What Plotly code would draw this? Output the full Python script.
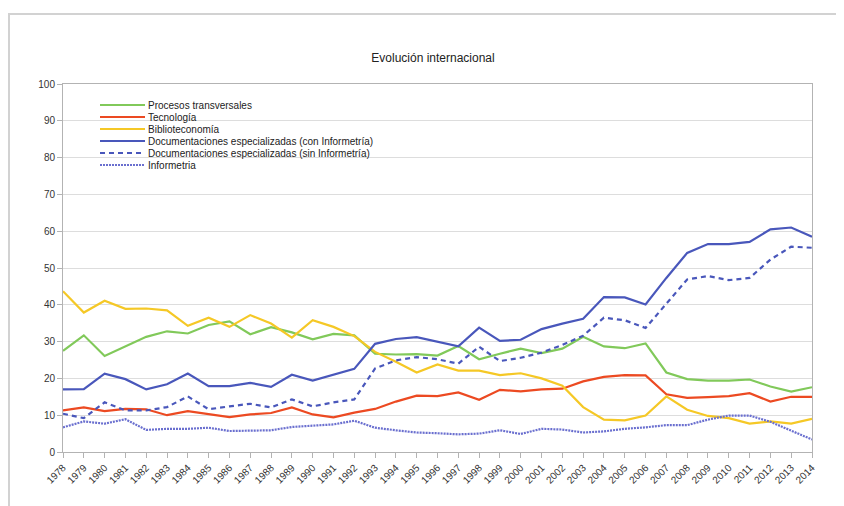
import plotly.graph_objects as go

years = list(range(1978, 2015))

procesos = [27.5, 31.7, 26.1, 28.6, 31.3, 32.8, 32.2, 34.5, 35.5, 32.0, 33.9, 32.5,
            30.6, 32.1, 31.7, 26.7, 26.5, 26.6, 26.2, 28.8, 25.2, 26.7, 28.1, 26.9,
            28.1, 31.3, 28.7, 28.2, 29.5, 21.6, 19.8, 19.4, 19.4, 19.7, 17.8, 16.4, 17.6]
tecnologia = [11.3, 12.1, 11.1, 11.7, 11.6, 10.0, 11.1, 10.2, 9.5, 10.2, 10.6, 12.1,
              10.2, 9.4, 10.7, 11.7, 13.7, 15.3, 15.2, 16.2, 14.2, 16.9, 16.5, 17.0,
              17.2, 19.2, 20.4, 20.9, 20.8, 15.7, 14.7, 14.9, 15.2, 16.0, 13.7, 15.0, 15.0]
biblioteconomia = [43.7, 37.9, 41.1, 38.9, 39.0, 38.5, 34.3, 36.5, 34.0, 37.2, 34.9, 31.1,
                   35.8, 34.0, 31.5, 27.2, 24.5, 21.6, 23.8, 22.1, 22.1, 20.9, 21.4, 20.0,
                   18.0, 12.2, 8.8, 8.6, 9.9, 15.1, 11.5, 9.8, 9.2, 7.7, 8.3, 7.7, 9.0]
doc_con = [17.0, 17.1, 21.3, 19.8, 17.0, 18.4, 21.3, 17.9, 17.9, 18.8, 17.7, 21.0,
           19.4, 20.9, 22.6, 29.4, 30.7, 31.2, 29.9, 28.7, 33.8, 30.2, 30.5, 33.4,
           34.9, 36.2, 42.1, 42.0, 40.1, 47.3, 54.1, 56.5, 56.5, 57.1, 60.5, 61.0, 58.5]
doc_sin = [10.4, 9.2, 13.5, 11.3, 11.3, 12.2, 15.1, 11.6, 12.4, 13.1, 12.1, 14.3,
           12.4, 13.5, 14.3, 22.7, 24.9, 25.8, 25.2, 24.0, 28.6, 24.7, 25.6, 27.0,
           29.1, 31.6, 36.5, 35.8, 33.7, 40.3, 46.9, 47.8, 46.7, 47.3, 52.3, 55.8, 55.5]
informetria = [6.7, 8.3, 7.7, 8.9, 6.0, 6.3, 6.3, 6.6, 5.7, 5.7, 5.9, 6.8,
               7.1, 7.5, 8.5, 6.6, 5.9, 5.3, 5.1, 4.8, 5.0, 5.9, 4.9, 6.3,
               6.1, 5.3, 5.6, 6.3, 6.7, 7.3, 7.3, 8.8, 9.9, 9.9, 8.2, 5.9, 3.4]

names = ["Procesos transversales", "Tecnología", "Biblioteconomía",
         "Documentaciones especializadas (con Informetría)",
         "Documentaciones especializadas (sin Informetría)", "Informetria"]
series = [procesos, tecnologia, biblioteconomia, doc_con, doc_sin, informetria]
colors = ["#81c95a", "#ec4a22", "#f5c826", "#4957bb", "#4957bb", "#6a6fcf"]
dashes = ["solid", "solid", "solid", "solid", "5px,4px", "2px,1px"]

FONT = "Liberation Sans, Arial, sans-serif"

# the page body has an 8px margin, so the figure sits at (8, 8)
OFF = 8
FW, FH = 844 - OFF, 506 - OFF
# plot area in page pixels
L, R, T, B = 63, 812, 84, 452
W, H = R - L, B - T


def px_x(p):
    return (p - L) / W


def px_y(p):
    return (B - p) / H


fig = go.Figure()
for name, vals, col, dash in zip(names, series, colors, dashes):
    fig.add_trace(go.Scatter(x=years, y=vals, name=name, mode="lines",
                             line=dict(color=col, width=2.2, dash=dash),
                             showlegend=False))

# compact legend drawn by hand, like the original
shapes = []
annotations = []
for i, (name, col, dash) in enumerate(zip(names, colors, dashes)):
    yy = px_y(105 + i * 12)
    shapes.append(dict(type="line", xref="paper", yref="paper",
                       x0=px_x(100), x1=px_x(145), y0=yy, y1=yy,
                       line=dict(color=col, width=2.2, dash=dash)))
    annotations.append(dict(text=name, xref="paper", yref="paper",
                            x=px_x(146), y=yy, xanchor="left", yanchor="middle",
                            showarrow=False, font=dict(size=10, color="#222", family=FONT)))

# outer frame of the embedded picture
shapes.append(dict(type="rect", xref="paper", yref="paper",
                   x0=px_x(9), x1=px_x(900), y0=px_y(14), y1=px_y(560),
                   line=dict(color="#d2d2d2", width=2), layer="below"))

fig.update_layout(
    width=FW, height=FH,
    margin=dict(l=L - OFF, r=844 - R, t=T - OFF, b=506 - B),
    paper_bgcolor="white", plot_bgcolor="white",
    font=dict(family=FONT, size=10, color="#333"),
    title=dict(text="Evolución internacional", xref="paper", x=px_x(433),
               yref="container", y=1 - (58 - OFF) / FH, xanchor="center", yanchor="middle",
               font=dict(size=12, color="#222", family=FONT)),
    shapes=shapes, annotations=annotations,
)
fig.update_xaxes(range=[1978, 2014], dtick=1, tickangle=-45, ticks="outside", ticklen=5,
                 tickcolor="#b3b3b3", showline=True, linecolor="#b3b3b3", mirror=True,
                 showgrid=False, zeroline=False, tickfont=dict(size=10, color="#333"))
fig.update_yaxes(range=[0, 100], dtick=10, ticks="outside", ticklen=5,
                 tickcolor="#b3b3b3", showline=True, linecolor="#b3b3b3", mirror=True,
                 showgrid=True, gridcolor="#dddddd", zeroline=False,
                 tickfont=dict(size=10, color="#333"))

fig.write_html("out.html")
